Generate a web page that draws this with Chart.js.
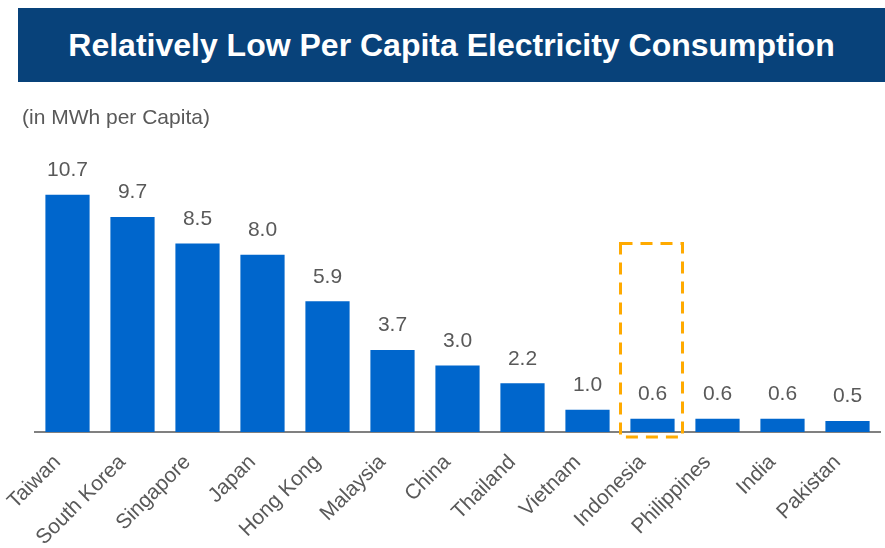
<!DOCTYPE html>
<html>
<head>
<meta charset="utf-8">
<script src="https://cdn.jsdelivr.net/npm/chart.js@4/dist/chart.umd.min.js"></script>
<style>
    html, body { margin: 0; padding: 0; background: #fff; }
    body { width: 885px; height: 548px; position: relative; overflow: hidden; font-family: "Liberation Sans", Arial, sans-serif; }
    .banner {
        position: absolute; left: 18px; top: 8px; width: 867px; height: 74px;
        background: #08427a; color: #fff; font-weight: bold; font-size: 32px;
        display: flex; align-items: center; justify-content: center;
    }
    .unit { position: absolute; left: 22px; top: 105px; font-size: 21px; color: #595959; }
    .wrap { position: absolute; left: 0; top: 0; width: 885px; height: 548px; }
</style>
</head>
<body>
<div class="wrap"><canvas id="chart" width="885" height="548"></canvas></div>
<div class="banner">Relatively Low Per Capita Electricity Consumption</div>
<div class="unit">(in MWh per Capita)</div>
<script>
// --- data ---
const countries = ['Taiwan', 'South Korea', 'Singapore', 'Japan', 'Hong Kong', 'Malaysia', 'China',
    'Thailand', 'Vietnam', 'Indonesia', 'Philippines', 'India', 'Pakistan'];
const consumption = [10.7, 9.7, 8.5, 8.0, 5.9, 3.7, 3.0, 2.2, 1.0, 0.6, 0.6, 0.6, 0.5];
const highlightIndex = 9;      // Indonesia
const highlightTop = 8.5;      // top of dashed box, in axis units

// value labels above each bar
const valueLabels = {
    id: 'valueLabels',
    afterDatasetsDraw(chart) {
        const ctx = chart.ctx;
        const meta = chart.getDatasetMeta(0);
        ctx.save();
        ctx.font = '21px "Liberation Sans", Arial, sans-serif';
        ctx.fillStyle = '#595959';
        ctx.textAlign = 'center';
        ctx.textBaseline = 'bottom';
        meta.data.forEach((bar, i) => {
            ctx.fillText(consumption[i].toFixed(1), bar.x, bar.y - 14);
        });
        ctx.restore();
    }
};

// dashed highlight box around one category
const highlightBox = {
    id: 'highlightBox',
    afterDatasetsDraw(chart) {
        const ctx = chart.ctx;
        const x = chart.scales.x, y = chart.scales.y;
        const cx = x.getPixelForValue(highlightIndex);
        const left = cx - 32, right = cx + 30;
        const top = y.getPixelForValue(highlightTop);
        const bottom = y.getPixelForValue(0) + 5;
        ctx.save();
        ctx.strokeStyle = '#ffaa00';
        ctx.lineWidth = 3;
        ctx.setLineDash([12, 8]);
        ctx.strokeRect(left, top, right - left, bottom - top);
        ctx.restore();
    }
};

new Chart(document.getElementById('chart'), {
    type: 'bar',
    data: {
        labels: countries,
        datasets: [{
            data: consumption,
            backgroundColor: '#0066cc',
            barPercentage: 0.68,
            categoryPercentage: 1
        }]
    },
    options: {
        responsive: false,
        animation: false,
        layout: { padding: { left: 35, right: 5, top: 166, bottom: 0 } },
        plugins: { legend: { display: false }, tooltip: { enabled: false } },
        scales: {
            y: { display: false, min: 0, max: 12 },
            x: {
                afterFit: (s) => { s.height = 116; },
                grid: { display: false },
                border: { display: true, color: '#808080', width: 2 },
                ticks: {
                    minRotation: 45, maxRotation: 45, autoSkip: false,
                    color: '#595959', padding: 10, labelOffset: -10,
                    font: { size: 21, family: '"Liberation Sans", Arial, sans-serif' }
                }
            }
        }
    },
    plugins: [valueLabels, highlightBox]
});
</script>
</body>
</html>
